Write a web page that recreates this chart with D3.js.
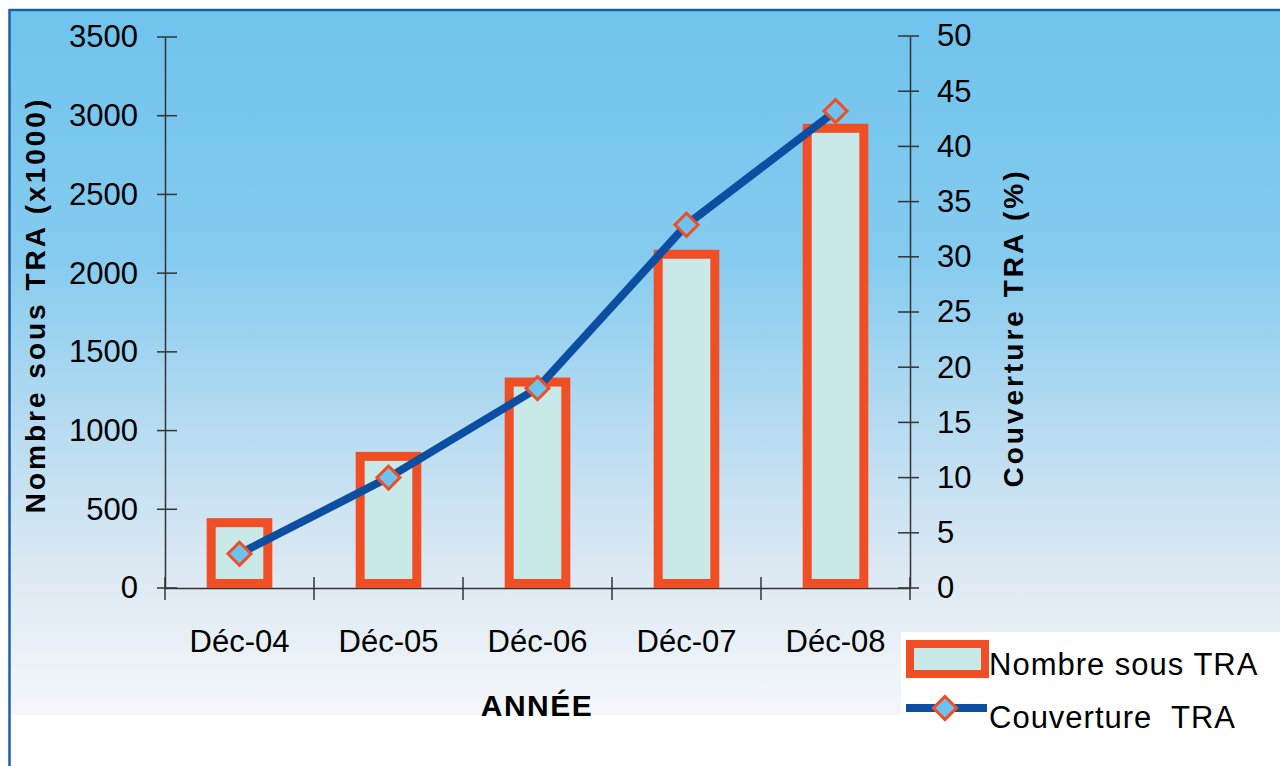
<!DOCTYPE html>
<html><head><meta charset="utf-8">
<script src="https://cdn.jsdelivr.net/npm/d3@7"></script>
<style>html,body{margin:0;padding:0;background:#fff;}svg{display:block;}</style>
</head><body>
<script>
const categories = ["Déc-04","Déc-05","Déc-06","Déc-07","Déc-08"];
const nombreValues = [415, 836, 1308, 2120, 2920];
const couvertureValues = [3.1, 10.0, 18.1, 32.9, 43.2];
const leftTicks = [0,500,1000,1500,2000,2500,3000,3500];
const rightTicks = [0,5,10,15,20,25,30,35,40,45,50];
const seriesNames = ["Nombre sous TRA","Couverture  TRA"];

const W=1280,H=766;
const svg=d3.select("body").append("svg").attr("width",W).attr("height",H);
const FONT="'Liberation Sans', Arial, sans-serif";

const defs=svg.append("defs");
const g=defs.append("linearGradient").attr("id","bg").attr("x1",0).attr("y1",0).attr("x2",0).attr("y2",1);
[[0,"#6fc3ed"],[0.35,"#85cbef"],[0.6,"#b9dcf1"],[0.8,"#dde9f3"],[1,"#f4f7fa"]].forEach(s=>g.append("stop").attr("offset",s[0]).attr("stop-color",s[1]));

svg.append("rect").attr("x",9).attr("y",9).attr("width",W-9).attr("height",706).attr("fill","url(#bg)");
svg.append("line").attr("x1",9).attr("x2",W).attr("y1",10).attr("y2",10).attr("stroke","#1d5fa6").attr("stroke-width",2.5);
svg.append("line").attr("x1",9.5).attr("x2",9.5).attr("y1",9).attr("y2",H).attr("stroke","#1d5fa6").attr("stroke-width",2.5);

const x0=165,x1=910,yTop=37,yBot=588;
const x=d3.scaleBand().domain(categories).range([x0,x1]).paddingInner(0.62).paddingOuter(0.31);
const yL=d3.scaleLinear().domain([0,3500]).range([yBot,yTop]);
const yR=d3.scaleLinear().domain([0,50]).range([yBot,36]);

const axisColor="#333";
const la=svg.append("g").attr("transform",`translate(${x0},0)`)
  .call(d3.axisLeft(yL).tickValues(leftTicks).tickFormat(d3.format("d")).tickSize(0).tickPadding(27));
la.select(".domain").attr("stroke",axisColor).attr("stroke-width",1.5);
la.selectAll("text").attr("font-family",FONT).attr("font-size",31).attr("fill","#000");
svg.append("g").selectAll("line").data(leftTicks).join("line")
  .attr("x1",x0-8).attr("x2",x0+12).attr("y1",d=>yL(d)).attr("y2",d=>yL(d))
  .attr("stroke",axisColor).attr("stroke-width",1.5);

const ra=svg.append("g").attr("transform",`translate(${x1},0)`)
  .call(d3.axisRight(yR).tickValues(rightTicks).tickFormat(d3.format("d")).tickSize(0).tickPadding(27));
ra.select(".domain").attr("stroke",axisColor).attr("stroke-width",1.5);
ra.selectAll("text").attr("font-family",FONT).attr("font-size",31).attr("fill","#000");
svg.append("g").selectAll("line").data(rightTicks).join("line")
  .attr("x1",x1-12).attr("x2",x1+9).attr("y1",d=>yR(d)).attr("y2",d=>yR(d))
  .attr("stroke",axisColor).attr("stroke-width",1.5);

const xa=svg.append("g").attr("transform",`translate(0,${yBot})`)
  .call(d3.axisBottom(x).tickSize(0).tickPadding(42));
xa.select(".domain").attr("stroke",axisColor).attr("stroke-width",1.5);
xa.selectAll("text").attr("font-family",FONT).attr("font-size",31).attr("fill","#000");
const bounds=[x0].concat(categories.map(c=>x(c)+x.bandwidth()/2+x.step()/2));
svg.append("g").selectAll("line").data(bounds).join("line")
  .attr("x1",d=>d).attr("x2",d=>d).attr("y1",yBot-11).attr("y2",yBot+12)
  .attr("stroke",axisColor).attr("stroke-width",1.5);

const sw=9;
svg.append("g").selectAll("rect").data(nombreValues).join("rect")
  .attr("x",(d,i)=>x(categories[i])).attr("width",x.bandwidth())
  .attr("y",d=>yL(d)).attr("height",d=>yBot-sw/2-yL(d))
  .attr("fill","#c9e8e8").attr("stroke","#f04e24").attr("stroke-width",sw);

const pts=couvertureValues.map((v,i)=>[x(categories[i])+x.bandwidth()/2,yR(v)]);
svg.append("path").attr("d",d3.line()(pts)).attr("fill","none").attr("stroke","#0b4ea2").attr("stroke-width",8);
const diamond=d3.symbol().type(d3.symbolDiamond2).size(340);
svg.append("g").selectAll("path").data(pts).join("path")
  .attr("transform",d=>`translate(${d[0]},${d[1]})`)
  .attr("d",diamond()).attr("fill","#6ec2ee").attr("stroke","#f04e24").attr("stroke-width",3);

svg.append("text").attr("transform","translate(45,305) rotate(-90)").attr("text-anchor","middle")
  .attr("font-family",FONT).attr("font-weight","bold").attr("font-size",28).attr("letter-spacing",3)
  .text("Nombre sous TRA (x1000)");
svg.append("text").attr("transform","translate(1023,328) rotate(-90)").attr("text-anchor","middle")
  .attr("font-family",FONT).attr("font-weight","bold").attr("font-size",28).attr("letter-spacing",3)
  .text("Couverture TRA (%)");
svg.append("text").attr("x",537).attr("y",716).attr("text-anchor","middle")
  .attr("font-family",FONT).attr("font-weight","bold").attr("font-size",30).attr("letter-spacing",1.5)
  .text("ANNÉE");

const lg=svg.append("g");
lg.append("rect").attr("x",901).attr("y",632).attr("width",W-901).attr("height",H-632).attr("fill","#fff");
lg.append("rect").attr("x",910).attr("y",644).attr("width",75).attr("height",30)
  .attr("fill","#c9e8e8").attr("stroke","#f04e24").attr("stroke-width",8);
lg.append("line").attr("x1",906).attr("x2",987).attr("y1",708).attr("y2",708).attr("stroke","#0b4ea2").attr("stroke-width",8);
lg.append("path").attr("transform","translate(945,708)").attr("d",diamond()).attr("fill","#6ec2ee").attr("stroke","#f04e24").attr("stroke-width",3);
lg.selectAll("text.leg").data(seriesNames).join("text").attr("class","leg")
  .attr("x",989).attr("y",(d,i)=>675+i*53).attr("font-family",FONT).attr("font-size",31)
  .attr("letter-spacing",1).style("white-space","pre").text(d=>d);
</script>
</body></html>
